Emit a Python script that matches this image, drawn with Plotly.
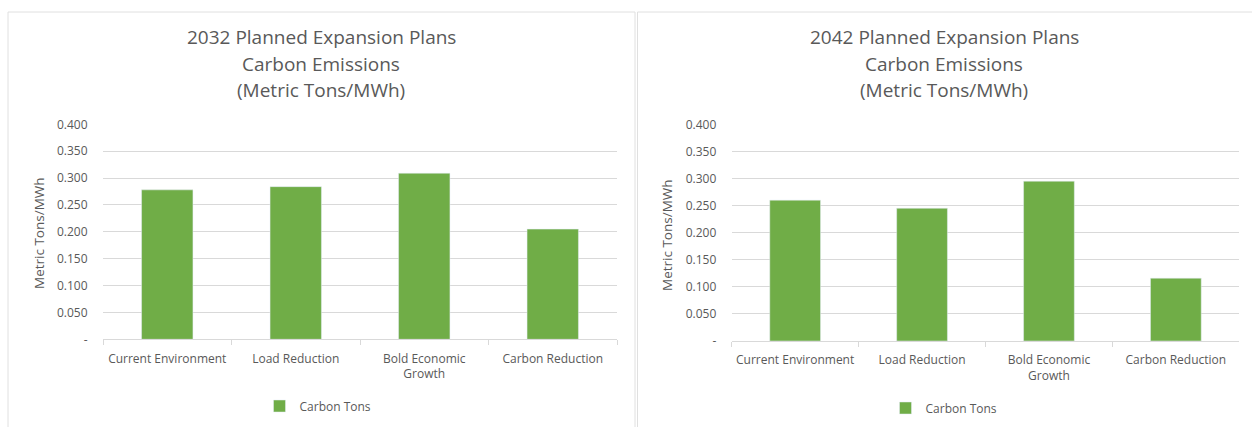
import plotly.graph_objects as go

categories = ["Current Environment", "Load Reduction", "Bold Economic Growth", "Carbon Reduction"]
cat_labels = ["Current Environment", "Load Reduction", "Bold Economic<br>Growth", "Carbon Reduction"]
values_2032 = [0.278, 0.284, 0.309, 0.205]
values_2042 = [0.260, 0.245, 0.295, 0.116]
series_name = "Carbon Tons"
y_tickvals = [0, 0.05, 0.10, 0.15, 0.20, 0.25, 0.30, 0.35, 0.40]
y_ticktext = ["-", "0.050", "0.100", "0.150", "0.200", "0.250", "0.300", "0.350", "0.400"]
titles = [
    ["2032 Planned Expansion Plans", "Carbon Emissions", "(Metric Tons/MWh)"],
    ["2042 Planned Expansion Plans", "Carbon Emissions", "(Metric Tons/MWh)"],
]
y_title = "Metric Tons/MWh"

W, H = 1252, 427
GREEN = "#70AD47"
GRID = "#d9d9d9"
BORDER = "#e0e0e0"
TXT = "#595959"
FONT = "Open Sans, Noto Sans, sans-serif"

fig = go.Figure()
fig.add_trace(go.Bar(x=categories, y=values_2032, name=series_name, marker_color=GREEN,
                     xaxis="x", yaxis="y", legend="legend", width=0.4))
fig.add_trace(go.Bar(x=categories, y=values_2042, name=series_name, marker_color=GREEN,
                     xaxis="x2", yaxis="y2", legend="legend2", width=0.4))

def px(x):
    return x / W

def py(y):
    return 1 - y / H

xcommon = dict(
    type="category", tickvals=categories, ticktext=cat_labels, tickangle=0, automargin=False,
    showline=True, linecolor=GRID, linewidth=1,
    ticks="outside", tickson="boundaries", ticklen=5, tickcolor=GRID,
    ticklabelstandoff=8,
    tickfont=dict(family=FONT, size=12, color=TXT),
    showgrid=False, zeroline=False, fixedrange=True,
)
ycommon = dict(
    range=[0, 0.4], tickvals=y_tickvals, ticktext=y_ticktext, automargin=False,
    showgrid=True, gridcolor=GRID, gridwidth=1, zeroline=False,
    showline=False, ticks="outside", ticklen=12, tickcolor="rgba(0,0,0,0)",
    tickfont=dict(family=FONT, size=12, color=TXT), fixedrange=True,
)

leg = dict(xanchor="center", yanchor="middle", orientation="h", itemwidth=30,
           font=dict(family=FONT, size=12, color=TXT), bgcolor="rgba(0,0,0,0)")

fig.update_layout(
    width=W, height=H,
    margin=dict(l=0, r=0, t=0, b=0, autoexpand=False),
    paper_bgcolor="white", plot_bgcolor="white",
    font=dict(family=FONT, color=TXT),
    xaxis=dict(domain=[px(103), px(617)], anchor="y", **xcommon),
    yaxis=dict(domain=[py(339.3), py(124.3)], anchor="x", **ycommon),
    xaxis2=dict(domain=[px(731.7), px(1239.3)], anchor="y2", **xcommon),
    yaxis2=dict(domain=[py(341), py(124.3)], anchor="x2", **ycommon),
    legend=dict(x=px(318), y=py(406), **leg),
    legend2=dict(x=px(944), y=py(408), **leg),
    showlegend=True,
)

annotations = []
for cx, lines in zip([321, 944], titles):
    for yy, line in zip([37, 64, 90], lines):
        annotations.append(dict(text=line, x=px(cx), y=py(yy), xref="paper", yref="paper",
                                xanchor="center", yanchor="middle", showarrow=False,
                                font=dict(family=FONT, size=19, color=TXT)))
for cx, cy in [(39, 233), (667, 235)]:
    annotations.append(dict(text=y_title, x=px(cx), y=py(cy), xref="paper", yref="paper",
                            xanchor="center", yanchor="middle", showarrow=False, textangle=-90,
                            font=dict(family=FONT, size=13.5, color=TXT)))
fig.update_layout(annotations=annotations)

# panel borders
shapes = [
    dict(type="rect", xref="paper", yref="paper", x0=px(8), x1=px(635), y0=-0.05, y1=py(12),
         line=dict(color=BORDER, width=1), fillcolor="rgba(0,0,0,0)", layer="below"),
    dict(type="rect", xref="paper", yref="paper", x0=px(637.5), x1=1.05, y0=-0.05, y1=py(12),
         line=dict(color=BORDER, width=1), fillcolor="rgba(0,0,0,0)", layer="below"),
]
fig.update_layout(shapes=shapes)

fig.write_html("out.html")
